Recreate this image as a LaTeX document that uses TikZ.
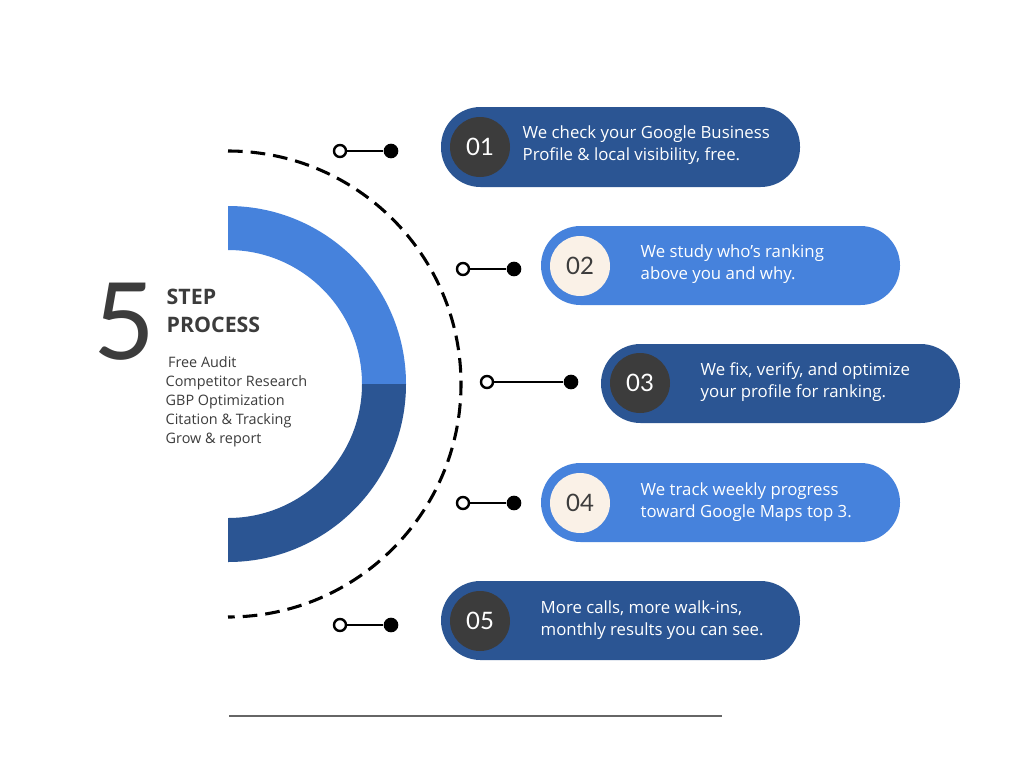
\documentclass[tikz,border=0pt]{standalone}
\usepackage{fontspec}
\setmainfont{Open Sans}
\newfontfamily\latof{Lato}
\definecolor{dk}{HTML}{2B5593}
\definecolor{lt}{HTML}{4682DC}
\definecolor{gr}{HTML}{3C3C3C}
\definecolor{cr}{HTML}{FAF1E7}
\begin{document}
\begin{tikzpicture}[x=0.75pt,y=-0.75pt,
 pill/.style={rounded corners=29.6pt},
 txt/.style={anchor=west,text=white,font=\fontsize{12.6}{17}\selectfont,align=left},
 num/.style={circle,minimum size=45pt,inner sep=0pt,font=\latof\fontsize{18}{20}\selectfont},
 oc/.style={circle,draw=black,line width=1.8pt,fill=white,minimum size=9pt,inner sep=0pt},
 fc/.style={circle,fill=black,minimum size=11pt,inner sep=0pt},
 con/.style={line width=1.8pt}]
\useasboundingbox (0,0) rectangle (1024,768);
\fill[white] (0,0) rectangle (1024,768);
% ring
\fill[lt] (228,206) arc[start angle=-90,end angle=0,radius=178] -- (362,384) arc[start angle=0,end angle=-90,radius=134] -- cycle;
\fill[dk] (406,384) arc[start angle=0,end angle=90,radius=178] -- (228,518) arc[start angle=90,end angle=0,radius=134] -- cycle;
\draw[line width=2.3pt,dash pattern=on 11pt off 6pt] (228,151) arc[start angle=-90,end angle=90,radius=233];
% title
\node[anchor=center,text=gr,font=\latof\fontsize{80}{80}\selectfont] (five) at (124,322) {5};
\node[anchor=west,text=gr,font=\bfseries\fontsize{16}{21}\selectfont,align=left] (step) at (162,311) {STEP\\PROCESS};
\node[anchor=north west,text=gr,font=\fontsize{10.8}{14.3}\selectfont,align=left] (list) at (161,352) {\,Free Audit\\Competitor Research\\GBP Optimization\\Citation \& Tracking\\Grow \& report};
% pills
\fill[dk,pill] (441,107) rectangle (800,187);
\node[num,fill=gr,text=white] (n1) at (480,147) {01};
\node[txt] (t1) at (518,145) {We check your Google Business\\Profile \& local visibility, free.};
\fill[lt,pill] (541,226) rectangle (900,305);
\node[num,fill=cr,text=gr] (n2) at (580,266) {02};
\node[txt] (t2) at (636,264) {We study who's ranking\\above you and why.};
\fill[dk,pill] (601,344) rectangle (960,423);
\node[num,fill=gr,text=white] (n3) at (640,383) {03};
\node[txt] (t3) at (696,382) {We fix, verify, and optimize\\your profile for ranking.};
\fill[lt,pill] (541,463) rectangle (900,542);
\node[num,fill=cr,text=gr] (n4) at (580,503) {04};
\node[txt] (t4) at (636,502) {We track weekly progress\\toward Google Maps top 3.};
\fill[dk,pill] (441,581) rectangle (800,660);
\node[num,fill=gr,text=white] (n5) at (480,621) {05};
\node[txt] (t5) at (536,620) {More calls, more walk-ins,\\monthly results you can see.};
% connectors
\foreach \i/\a/\b/\y in {1/340/391/151,2/463/514/269,3/487/571/382,4/463/514/503,5/340/391/625}{
 \node[fc] (f\i) at (\b,\y) {};
 \node[oc] (o\i) at (\a,\y) {};
 \draw[con] (o\i) -- (f\i);
}
\coordinate (la) at (229,716); \coordinate (lb) at (722,716);
\draw[gray!80!black,line width=1pt] (la) -- (lb);
\end{tikzpicture}
\end{document}
